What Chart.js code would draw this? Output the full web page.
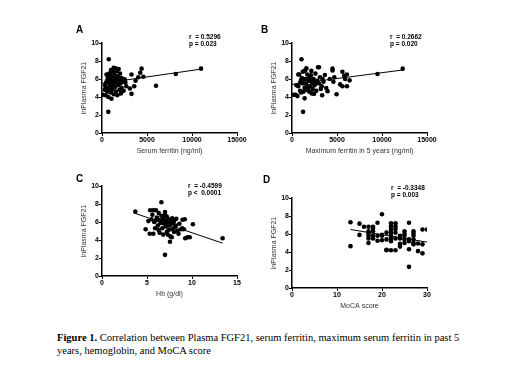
<!DOCTYPE html>
<html>
<head>
<meta charset="utf-8">
<script src="https://cdn.jsdelivr.net/npm/chart.js@4.4.1/dist/chart.umd.min.js"></script>
<style>
    body { margin: 0; background: #fff; width: 520px; height: 378px; position: relative; overflow: hidden; }
    .panel { position: absolute; width: 200px; height: 140px; }
    #leyenda {
        position: absolute; left: 57px; top: 331px;
        font-family: "Liberation Serif", "Times New Roman", serif; font-size: 10.5px; line-height: 13px; color: #000;
    }
</style>
</head>
<body>
<canvas id="panelA" class="panel" width="200" height="140" style="left:57px;top:18px"></canvas>
<canvas id="panelB" class="panel" width="200" height="140" style="left:247px;top:18px"></canvas>
<canvas id="panelC" class="panel" width="200" height="140" style="left:57px;top:161px"></canvas>
<canvas id="panelD" class="panel" width="200" height="140" style="left:247px;top:173px"></canvas>
<div id="leyenda"><b>Figure 1.</b> Correlation between Plasma FGF21, serum ferritin, maximum serum ferritin in past 5<br>years, hemoglobin, and MoCA score</div>

<script>
// A - serum ferritin (ng/ml) vs lnPlasma FGF21
const serumFerritin = [750, 700, 11000, 8200, 6000, 4400, 4250, 4030, 3730, 3580, 3280, 3100, 3280, 4600, 2550, 2350,
    100, 300, 350, 400, 450, 500, 550, 600, 650, 700, 750, 800, 850, 900, 950, 1000, 1000, 1050, 1100, 1150,
    1200, 1200, 1250, 1300, 1300, 1350, 1400, 1450, 1500, 1500, 1550, 1600, 1650, 1700, 1750, 1800, 1850, 1900,
    1950, 2000, 2050, 2100, 2150, 2200, 2300, 2400, 2500, 2600, 2700, 900, 1100, 600, 400, 1350, 800, 1700, 1000, 1250];
const fgf21A = [8.2, 2.35, 7.15, 6.55, 5.25, 7.15, 6.7, 6.2, 5.8, 5.2, 4.35, 4.95, 6.5, 6.25, 5.95, 6.0,
    4.25, 4.8, 5.3, 4.2, 5.6, 6.5, 4.7, 5.9, 6.3, 4.0, 5.0, 6.6, 5.4, 6.0, 4.5, 7.0, 5.7, 3.8, 6.2, 4.9,
    6.8, 5.4, 6.0, 7.25, 4.3, 5.8, 6.5, 5.1, 7.2, 6.1, 4.6, 5.6, 6.9, 4.2, 6.3, 5.3, 7.1, 5.9,
    4.8, 6.6, 5.5, 4.4, 6.1, 5.0, 5.7, 4.7, 5.9, 5.6, 5.2, 6.4, 5.2, 4.6, 5.0, 6.7, 5.8, 6.0, 4.7, 5.5];
const fitXA = [0, 11000];
const fitYA = [5.5, 7.1];

// B - maximum ferritin in 5 years
const maxFerritin = [1050, 1230, 12300, 9500, 2900, 3000, 4500, 4500, 4700, 3650, 4200, 3200, 3350, 3950, 4950, 5600,
    5800, 6100, 5600, 6100, 5900, 6400, 5350, 4600, 2450, 1400, 2150,
    200, 400, 500, 600, 700, 800, 900, 1000, 1100, 1200, 1300, 1400, 1400, 1500, 1500, 1600, 1700, 1700, 1800,
    1900, 1900, 2000, 2100, 2200, 2300, 2400, 2500, 2600, 2700, 2800, 3000, 3100, 3300, 3400, 3500, 900, 1200,
    1600, 2000, 2200, 1000, 700, 3800, 2700, 1300, 1800];
const fgf21B = [8.2, 2.35, 7.15, 6.55, 7.3, 7.3, 7.15, 6.95, 6.2, 6.45, 6.0, 4.9, 4.2, 4.65, 4.3, 6.8,
    6.35, 6.5, 5.2, 5.2, 6.0, 5.85, 5.4, 5.7, 4.35, 3.85, 6.9,
    4.25, 4.25, 5.3, 4.1, 5.2, 6.5, 4.7, 5.9, 6.1, 5.5, 4.6, 6.9, 5.0, 7.0, 6.0, 5.4, 4.8, 6.5, 5.8,
    6.2, 4.6, 5.2, 6.4, 5.6, 4.9, 6.0, 5.3, 6.6, 4.7, 5.8, 5.5, 6.2, 5.2, 6.0, 5.7, 5.6, 6.8,
    7.2, 5.9, 4.4, 4.5, 6.5, 5.0, 5.6, 5.8, 5.0];
const fitXB = [0, 12300];
const fitYB = [5.4, 7.0];

// C - Hb (g/dl)
const hb = [3.7, 4.85, 6.6, 7.0, 13.4, 10.1, 9.75, 9.25, 8.95, 9.2, 8.8, 8.25, 8.1, 7.75, 7.55, 5.9, 5.7, 5.7, 5.35, 6.0, 5.15, 5.3,
    5.6, 5.8, 6.1, 6.2, 6.3, 6.4, 6.4, 6.5, 6.6, 6.7, 6.8, 6.8, 6.9, 7.0, 7.0, 7.1, 7.2, 7.2, 7.3, 7.4, 7.4, 7.5,
    7.6, 7.6, 7.7, 7.8, 7.8, 7.9, 8.0, 8.0, 8.2, 8.4, 8.5, 8.6, 8.9, 9.1, 9.5, 7.0, 6.6, 7.5, 7.3, 6.0, 5.5, 6.3];
const fgf21C = [7.15, 5.2, 8.2, 2.35, 4.2, 5.75, 4.3, 4.2, 6.25, 6.3, 5.2, 6.35, 5.4, 4.3, 3.8, 5.3, 4.7, 7.3, 7.3, 7.3, 6.1, 4.7,
    6.8, 6.0, 6.5, 5.6, 7.0, 6.2, 4.8, 5.9, 6.7, 5.3, 6.4, 4.6, 5.8, 7.1, 6.1, 5.5, 6.6, 4.9, 5.9, 6.3, 5.1, 5.6,
    6.1, 4.4, 5.8, 6.4, 5.2, 5.9, 6.1, 4.9, 5.6, 5.0, 4.7, 5.8, 5.3, 5.2, 4.3, 6.8, 6.1, 6.0, 4.6, 6.2, 6.3, 5.1];
const fitXC = [3.7, 13.4];
const fitYC = [6.95, 3.65];

// D - MoCA score
const moca = [13, 13, 15, 15, 16, 17, 17, 17, 17, 17, 17, 18, 18, 18, 18, 18, 19, 19, 19, 20, 20, 20, 20,
    21, 21, 21, 21, 22, 22, 22, 22, 22, 22, 22, 22, 23, 23, 23, 23, 23, 23, 24, 24, 24, 24,
    25, 25, 25, 25, 25, 26, 26, 26, 26, 26, 27, 27, 27, 27, 27, 27, 28, 28, 29, 29, 29, 30];
const fgf21D = [7.3, 4.65, 7.15, 5.9, 6.8, 6.8, 6.3, 6.05, 5.8, 5.5, 5.0, 6.8, 6.6, 6.3, 5.8, 5.5, 7.25, 5.8, 5.25, 8.2, 5.9, 5.8, 5.3,
    6.15, 5.4, 4.25, 4.2, 7.2, 6.85, 6.5, 6.15, 5.8, 5.5, 5.2, 4.2, 7.2, 6.85, 6.55, 6.15, 5.5, 4.2, 5.8, 5.5, 4.9, 4.6,
    6.3, 6.0, 5.8, 5.4, 5.0, 7.25, 5.4, 5.2, 4.3, 2.35, 6.3, 6.05, 5.8, 5.4, 5.0, 4.85, 4.95, 4.1, 6.5, 4.85, 3.85, 6.5];
const fitXD = [13, 30];
const fitYD = [6.5, 5.1];

const yTitle = 'lnPlasma FGF21';

// textos de las esquinas (letra del panel y r / p)
const textosPanel = {
    id: 'textosPanel',
    afterDraw(chart) {
        const cfg = chart.options.plugins.textosPanel;
        const ctx = chart.ctx;
        const area = chart.chartArea;
        ctx.save();
        ctx.fillStyle = '#000';
        ctx.textBaseline = 'middle';
        ctx.textAlign = 'left';
        ctx.font = 'bold 10px Arial, "Liberation Sans", sans-serif';
        ctx.fillText(cfg.letra, cfg.letraX, cfg.letraY);
        ctx.font = 'bold 6.5px Arial, "Liberation Sans", sans-serif';
        ctx.fillText(cfg.r, area.right - cfg.dx, area.top + cfg.dy);
        ctx.fillText(cfg.p, area.right - cfg.dx, area.top + cfg.dy + 7);
        ctx.restore();
    }
};

function puntos(xs, ys) {
    return xs.map((x, i) => ({ x: x, y: ys[i] }));
}

function crearGrafico(id, xs, ys, fitX, fitY, xMax, xStep, xTitle, extra) {
    const ctx = document.getElementById(id).getContext('2d');
    const ejeFuente = { family: 'Arial, "Liberation Sans", sans-serif', size: 7, weight: 'bold' };
    const tituloFuente = { family: 'Arial, "Liberation Sans", sans-serif', size: 7 };

    return new Chart(ctx, {
        type: 'scatter',
        data: {
            datasets: [{
                data: puntos(xs, ys),
                backgroundColor: '#000',
                borderColor: '#000',
                pointRadius: 2.3,
                borderWidth: 0
            }, {
                data: puntos(fitX, fitY),
                showLine: true,
                borderColor: '#000',
                borderWidth: 1,
                pointRadius: 0
            }]
        },
        options: {
            responsive: false,
            animation: false,
            layout: { padding: { top: 25, right: 20, left: 0, bottom: 0 } },
            plugins: {
                legend: { display: false },
                tooltip: { enabled: false },
                textosPanel: extra
            },
            scales: {
                x: {
                    type: 'linear',
                    min: 0,
                    max: xMax,
                    afterFit: s => { s.height = 25; },
                    ticks: { stepSize: xStep, font: ejeFuente, color: '#000', padding: 0, maxRotation: 0, callback: v => v },
                    grid: { drawOnChartArea: false, drawTicks: true, tickLength: 3, color: '#000', lineWidth: 1 },
                    border: { color: '#000', width: 1.5 },
                    title: { display: true, text: xTitle, font: tituloFuente, color: '#333', padding: { top: 0, bottom: 3 } }
                },
                y: {
                    min: 0,
                    max: 10,
                    afterFit: s => { s.width = 45; },
                    ticks: { stepSize: 2, font: ejeFuente, color: '#000', padding: 0 },
                    grid: { drawOnChartArea: false, drawTicks: true, tickLength: 3, color: '#000', lineWidth: 1 },
                    border: { color: '#000', width: 1.5 },
                    title: { display: true, text: yTitle, font: tituloFuente, color: '#333', padding: { top: 23, bottom: 0 } }
                }
            }
        },
        plugins: [textosPanel]
    });
}

crearGrafico('panelA', serumFerritin, fgf21A, fitXA, fitYA, 15000, 5000, 'Serum ferritin (ng/ml)',
    { letra: 'A', letraX: 19, letraY: 12, r: 'r  = 0.5296', p: 'p = 0.023', dx: 48, dy: -6 });
crearGrafico('panelB', maxFerritin, fgf21B, fitXB, fitYB, 15000, 5000, 'Maximum ferritin in 5 years (ng/ml)',
    { letra: 'B', letraX: 14, letraY: 12, r: 'r  = 0.2662', p: 'p = 0.020', dx: 37, dy: -6 });
crearGrafico('panelC', hb, fgf21C, fitXC, fitYC, 15, 5, 'Hb (g/dl)',
    { letra: 'C', letraX: 19, letraY: 18, r: 'r  = -0.4599', p: 'p <  0.0001', dx: 49, dy: 0 });
crearGrafico('panelD', moca, fgf21D, fitXD, fitYD, 30, 10, 'MoCA score',
    { letra: 'D', letraX: 16, letraY: 7, r: 'r  = -0.3348', p: 'p = 0.003', dx: 36, dy: -10 });
</script>
</body>
</html>
